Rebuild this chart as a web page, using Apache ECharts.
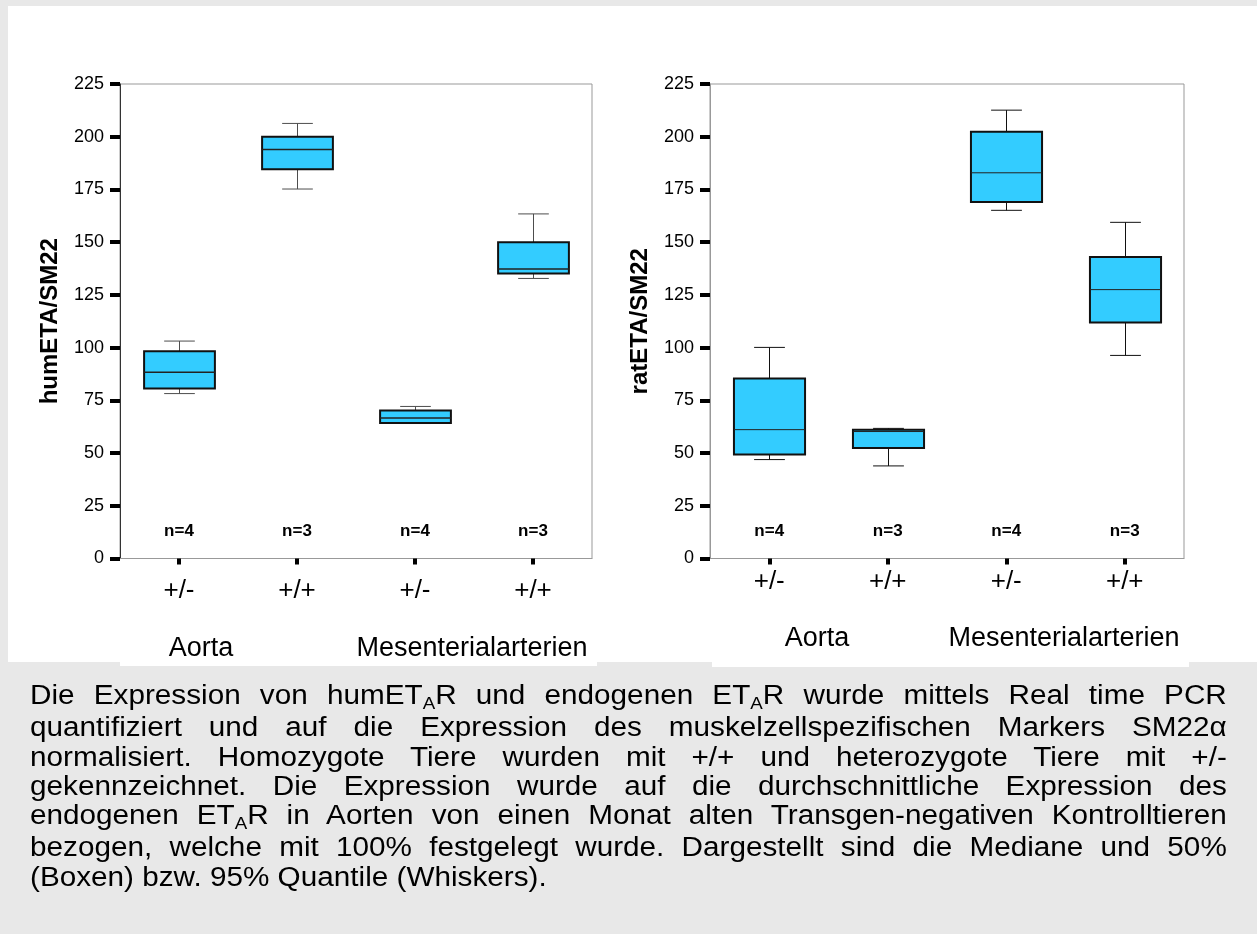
<!DOCTYPE html>
<html>
<head>
<meta charset="utf-8">
<script src="https://cdn.jsdelivr.net/npm/echarts@6/dist/echarts.min.js"></script>
<style>
  html, body { margin: 0; padding: 0; background: #e8e8e8; width: 1257px; height: 934px; overflow: hidden; }
  #panel { position: absolute; left: 8px; top: 6px; width: 1249px; height: 656px; background: #ffffff; }
  #ext1 { position: absolute; left: 120px; top: 660px; width: 477px; height: 6px; background: #ffffff; }
  #ext2 { position: absolute; left: 712px; top: 660px; width: 477px; height: 7px; background: #ffffff; }
  #chart { position: absolute; left: 0; top: 0; width: 1257px; height: 934px; }
  #caption { position: absolute; left: 30px; top: 681px; width: 1088px; transform: scaleX(1.1); transform-origin: 0 0;
    font-family: 'Liberation Sans', Arial, sans-serif; font-size: 27px; line-height: 29.3px; color: #000; }
  #caption div { text-align: justify; text-align-last: justify; white-space: nowrap; }
  #caption div.last { text-align-last: left; }
  #caption .s { font-size: 17px; position: relative; top: 5px; }
</style>
</head>
<body>
<div id="panel"></div>
<div id="ext1"></div>
<div id="ext2"></div>
<div id="chart"></div>
<div id="caption"></div>
<script>
// ---- data ----
const categories = ['+/-', '+/+', '+/-', '+/+'];
const groupLabels = ['Aorta', 'Mesenterialarterien'];
const nLabels = ['n=4', 'n=3', 'n=4', 'n=3'];
const leftAxisName = 'humETA/SM22';
const rightAxisName = 'ratETA/SM22';

// humETA/SM22 boxes
const humLow    = [78.2, 175.2, 64.0, 132.8];
const humQ1     = [80.6, 184.6, 64.3, 135.2];
const humMedian = [88.3, 193.9, 66.6, 137.3];
const humQ3     = [98.3, 200.0, 70.2, 150.0];
const humHigh   = [103.1, 206.3, 72.1, 163.4];

// ratETA/SM22 boxes
const ratLow    = [46.9, 43.9, 165.1, 96.3];
const ratQ1     = [49.3, 52.4, 169.1, 111.9];
const ratMedian = [61.1, 60.2, 182.9, 127.5];
const ratQ3     = [85.3, 61.1, 202.4, 143.0];
const ratHigh   = [100.1, 61.7, 212.6, 159.4];

const captionLines = [
  'Die Expression von humET<span class="s">A</span>R und endogenen ET<span class="s">A</span>R wurde mittels Real time PCR',
  'quantifiziert und auf die Expression des muskelzellspezifischen Markers SM22α',
  'normalisiert. Homozygote Tiere wurden mit +/+ und heterozygote Tiere mit +/-',
  'gekennzeichnet. Die Expression wurde auf die durchschnittliche Expression des',
  'endogenen ET<span class="s">A</span>R in Aorten von einen Monat alten Transgen-negativen Kontrolltieren',
  'bezogen, welche mit 100% festgelegt wurde. Dargestellt sind die Mediane und 50%',
  '(Boxen) bzw. 95% Quantile (Whiskers).'
];

document.getElementById('caption').innerHTML = captionLines.map(function (l, i) {
  return '<div' + (i === captionLines.length - 1 ? ' class="last"' : '') + '>' + l + '</div>';
}).join('');

// ---- chart ----
const FONT = "'Liberation Sans', Arial, sans-serif";

function boxData(lo, q1, med, q3, hi) {
  return categories.map(function (c, i) { return [i, lo[i], q1[i], med[i], q3[i], hi[i]]; });
}

function boxRenderer(whiskerColor, medianWidth) {
  return function (params, api) {
    const x = api.value(0);
    const lo = api.coord([x, api.value(1)]);
    const q1 = api.coord([x, api.value(2)]);
    const med = api.coord([x, api.value(3)]);
    const q3 = api.coord([x, api.value(4)]);
    const hi = api.coord([x, api.value(5)]);
    const band = api.size([1, 0])[0];
    const bw = band * 0.6, cw = band * 0.26;
    const cx = Math.round(med[0]) + 0.5;
    const ws = { stroke: whiskerColor, lineWidth: 1 };
    return {
      type: 'group',
      children: [
        { type: 'line', shape: { x1: cx, y1: hi[1], x2: cx, y2: q3[1] }, style: ws },
        { type: 'line', shape: { x1: cx - cw / 2, y1: hi[1], x2: cx + cw / 2, y2: hi[1] }, style: ws },
        { type: 'line', shape: { x1: cx, y1: q1[1], x2: cx, y2: lo[1] }, style: ws },
        { type: 'line', shape: { x1: cx - cw / 2, y1: lo[1], x2: cx + cw / 2, y2: lo[1] }, style: ws },
        { type: 'rect', shape: { x: cx - bw / 2, y: q3[1], width: bw, height: q1[1] - q3[1] },
          style: { fill: '#33ccff', stroke: '#111111', lineWidth: 2 } },
        { type: 'line', shape: { x1: cx - bw / 2, y1: med[1], x2: cx + bw / 2, y2: med[1] },
          style: { stroke: '#222222', lineWidth: medianWidth } }
      ]
    };
  };
}

function nRenderer(params, api) {
  const p = api.coord([api.value(0), 13]);
  return {
    type: 'text',
    style: { x: p[0], y: p[1], text: nLabels[params.dataIndex], fill: '#000', align: 'center', verticalAlign: 'middle',
      font: 'bold 17px ' + FONT }
  };
}

function yAxis(idx, name, lineColor) {
  return {
    type: 'value', gridIndex: idx, min: 0, max: 225, interval: 25,
    name: name, nameLocation: 'middle', nameGap: 58, nameRotate: 90,
    nameTextStyle: { fontFamily: FONT, fontSize: 24, fontWeight: 'bold', color: '#000' },
    axisLine: { show: true, lineStyle: { color: lineColor, width: 1 } },
    axisTick: { show: true, length: 10, lineStyle: { color: '#000', width: 4 } },
    axisLabel: { fontFamily: FONT, fontSize: 18, color: '#000', margin: 16 },
    splitLine: { show: false }
  };
}

function xAxis(idx, margin) {
  return {
    type: 'category', gridIndex: idx, data: categories, boundaryGap: true,
    axisLine: { show: true, lineStyle: { color: '#999999', width: 1 } },
    axisTick: { show: true, alignWithLabel: true, length: 6, lineStyle: { color: '#000', width: 4 } },
    axisLabel: { fontFamily: FONT, fontSize: 26, color: '#000', margin: margin },
    splitLine: { show: false }
  };
}

const chart = echarts.init(document.getElementById('chart'), null, { renderer: 'canvas' });
chart.setOption({
  backgroundColor: 'transparent',
  animation: false,
  grid: [
    { left: 120, right: 665, top: 84, bottom: 375.5, show: true, borderColor: '#999999', borderWidth: 1, backgroundColor: 'transparent' },
    { left: 710, right: 73, top: 84, bottom: 375.5, show: true, borderColor: '#999999', borderWidth: 1, backgroundColor: 'transparent' }
  ],
  xAxis: [xAxis(0, 19), xAxis(1, 10)],
  yAxis: [yAxis(0, leftAxisName, '#333333'), yAxis(1, rightAxisName, '#999999')],
  series: [
    { type: 'custom', xAxisIndex: 0, yAxisIndex: 0, renderItem: boxRenderer('#4d4d4d', 1.5),
      data: boxData(humLow, humQ1, humMedian, humQ3, humHigh), encode: { x: 0, y: [1, 2, 3, 4, 5] } },
    { type: 'custom', xAxisIndex: 1, yAxisIndex: 1, renderItem: boxRenderer('#111111', 1),
      data: boxData(ratLow, ratQ1, ratMedian, ratQ3, ratHigh), encode: { x: 0, y: [1, 2, 3, 4, 5] } },
    { type: 'custom', xAxisIndex: 0, yAxisIndex: 0, renderItem: nRenderer,
      data: nLabels.map(function (n, i) { return [i]; }), encode: { x: 0 } },
    { type: 'custom', xAxisIndex: 1, yAxisIndex: 1, renderItem: nRenderer,
      data: nLabels.map(function (n, i) { return [i]; }), encode: { x: 0 } }
  ],
  graphic: [
    { type: 'text', x: 201, y: 649, style: { text: groupLabels[0], font: '27px ' + FONT, fill: '#000', align: 'center', verticalAlign: 'middle' } },
    { type: 'text', x: 472, y: 649, style: { text: groupLabels[1], font: '27px ' + FONT, fill: '#000', align: 'center', verticalAlign: 'middle' } },
    { type: 'text', x: 817, y: 639, style: { text: groupLabels[0], font: '27px ' + FONT, fill: '#000', align: 'center', verticalAlign: 'middle' } },
    { type: 'text', x: 1064, y: 639, style: { text: groupLabels[1], font: '27px ' + FONT, fill: '#000', align: 'center', verticalAlign: 'middle' } }
  ]
});
</script>
</body>
</html>
